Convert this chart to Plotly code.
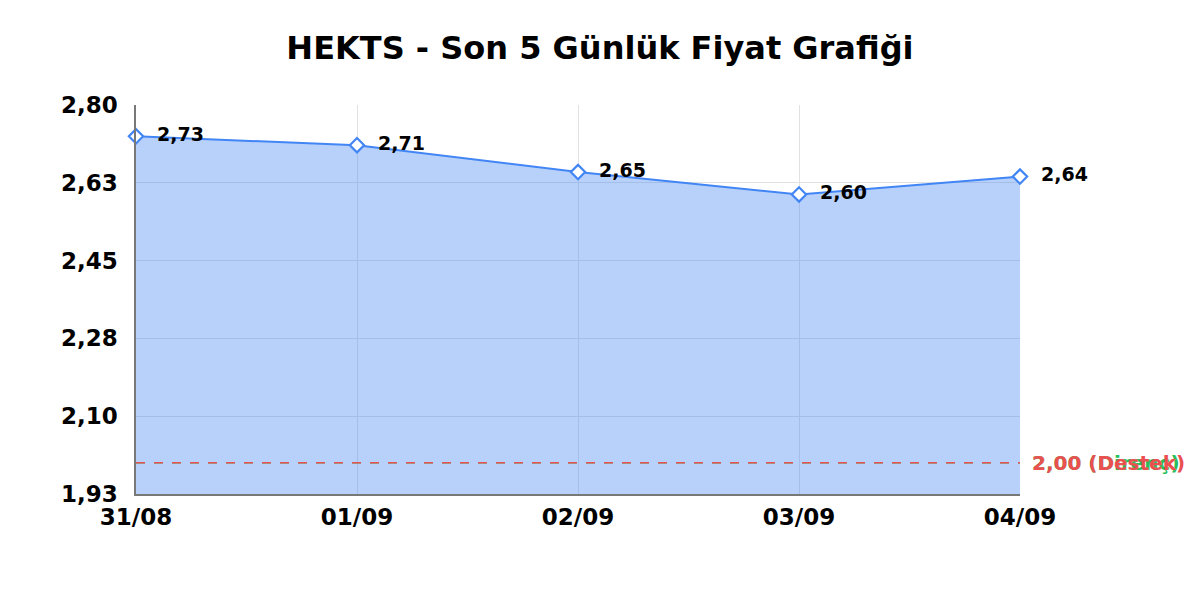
import plotly.graph_objects as go
import numpy as np

# Son 5 gunluk kapanis fiyatlari
dates = ['31/08', '01/09', '02/09', '03/09', '04/09']
prices = [2.73, 2.71, 2.65, 2.60, 2.64]
price_labels = ['2,73', '2,71', '2,65', '2,60', '2,64']

resistance = 2.00
support = 2.00

y_min, y_max = 1.93, 2.80
y_ticks = np.linspace(y_min, y_max, 6)
y_tick_labels = ['1,93', '2,10', '2,28', '2,45', '2,63', '2,80']

FONT = 'DejaVu Sans'
BLUE = 'rgb(66,133,244)'
GREEN = 'rgb(40,190,90)'
RED = 'rgb(235,80,80)'

fig = go.Figure()

fig.add_trace(go.Scatter(
    x=dates, y=prices,
    mode='lines+markers+text',
    text=['\u00a0\u00a0' + t for t in price_labels],
    textposition='middle right',
    textfont=dict(family=FONT, size=19, color='black', weight='bold'),
    line=dict(color=BLUE, width=2),
    marker=dict(symbol='diamond', size=11, color='white', line=dict(width=2.2, color=BLUE)),
    fill='tozeroy',
    fillcolor='rgba(66,133,244,0.38)',
    cliponaxis=False,
    showlegend=False,
))

# direnc (yesil) ve destek (kirmizi) cizgileri
for level, color in [(resistance, GREEN), (support, RED)]:
    fig.add_shape(type='line', xref='paper', x0=0, x1=1, yref='y', y0=level, y1=level,
                  line=dict(color=color, width=1.5, dash='dash'))

fig.add_annotation(xref='paper', x=1.0, xshift=10, y=resistance, xanchor='left',
                   text='2,00 (Direnç)', showarrow=False,
                   font=dict(family=FONT, size=20, color=GREEN, weight='bold'))
fig.add_annotation(xref='paper', x=1.0, xshift=10, y=support, xanchor='left',
                   text='2,00 (Destek)', showarrow=False,
                   font=dict(family=FONT, size=20, color=RED, weight='bold'))

fig.update_layout(
    width=1200, height=600,
    margin=dict(l=128, r=188, t=97, b=114),
    paper_bgcolor='white', plot_bgcolor='white',
    title=dict(text='HEKTS - Son 5 Günlük Fiyat Grafiği', x=0.4933, xanchor='center',
               y=0.933, yanchor='middle',
               font=dict(family=FONT, size=32, color='black', weight='bold')),
    font=dict(family=FONT),
)

fig.update_xaxes(
    type='category', range=[0, 4],
    showgrid=True, gridcolor='rgb(225,225,225)',
    showline=True, linecolor='rgb(120,120,120)', linewidth=1.5,
    ticks='', ticklabelstandoff=2,
    tickfont=dict(family=FONT, size=23, color='black', weight='bold'),
)
fig.update_yaxes(
    range=[y_min, y_max],
    tickvals=y_ticks, ticktext=y_tick_labels,
    showgrid=True, gridcolor='rgb(225,225,225)',
    showline=True, linecolor='rgb(120,120,120)', linewidth=1.5,
    zeroline=False, ticks='', ticklabelstandoff=12,
    tickfont=dict(family=FONT, size=23, color='black', weight='bold'),
)

fig.write_html('out.html')
